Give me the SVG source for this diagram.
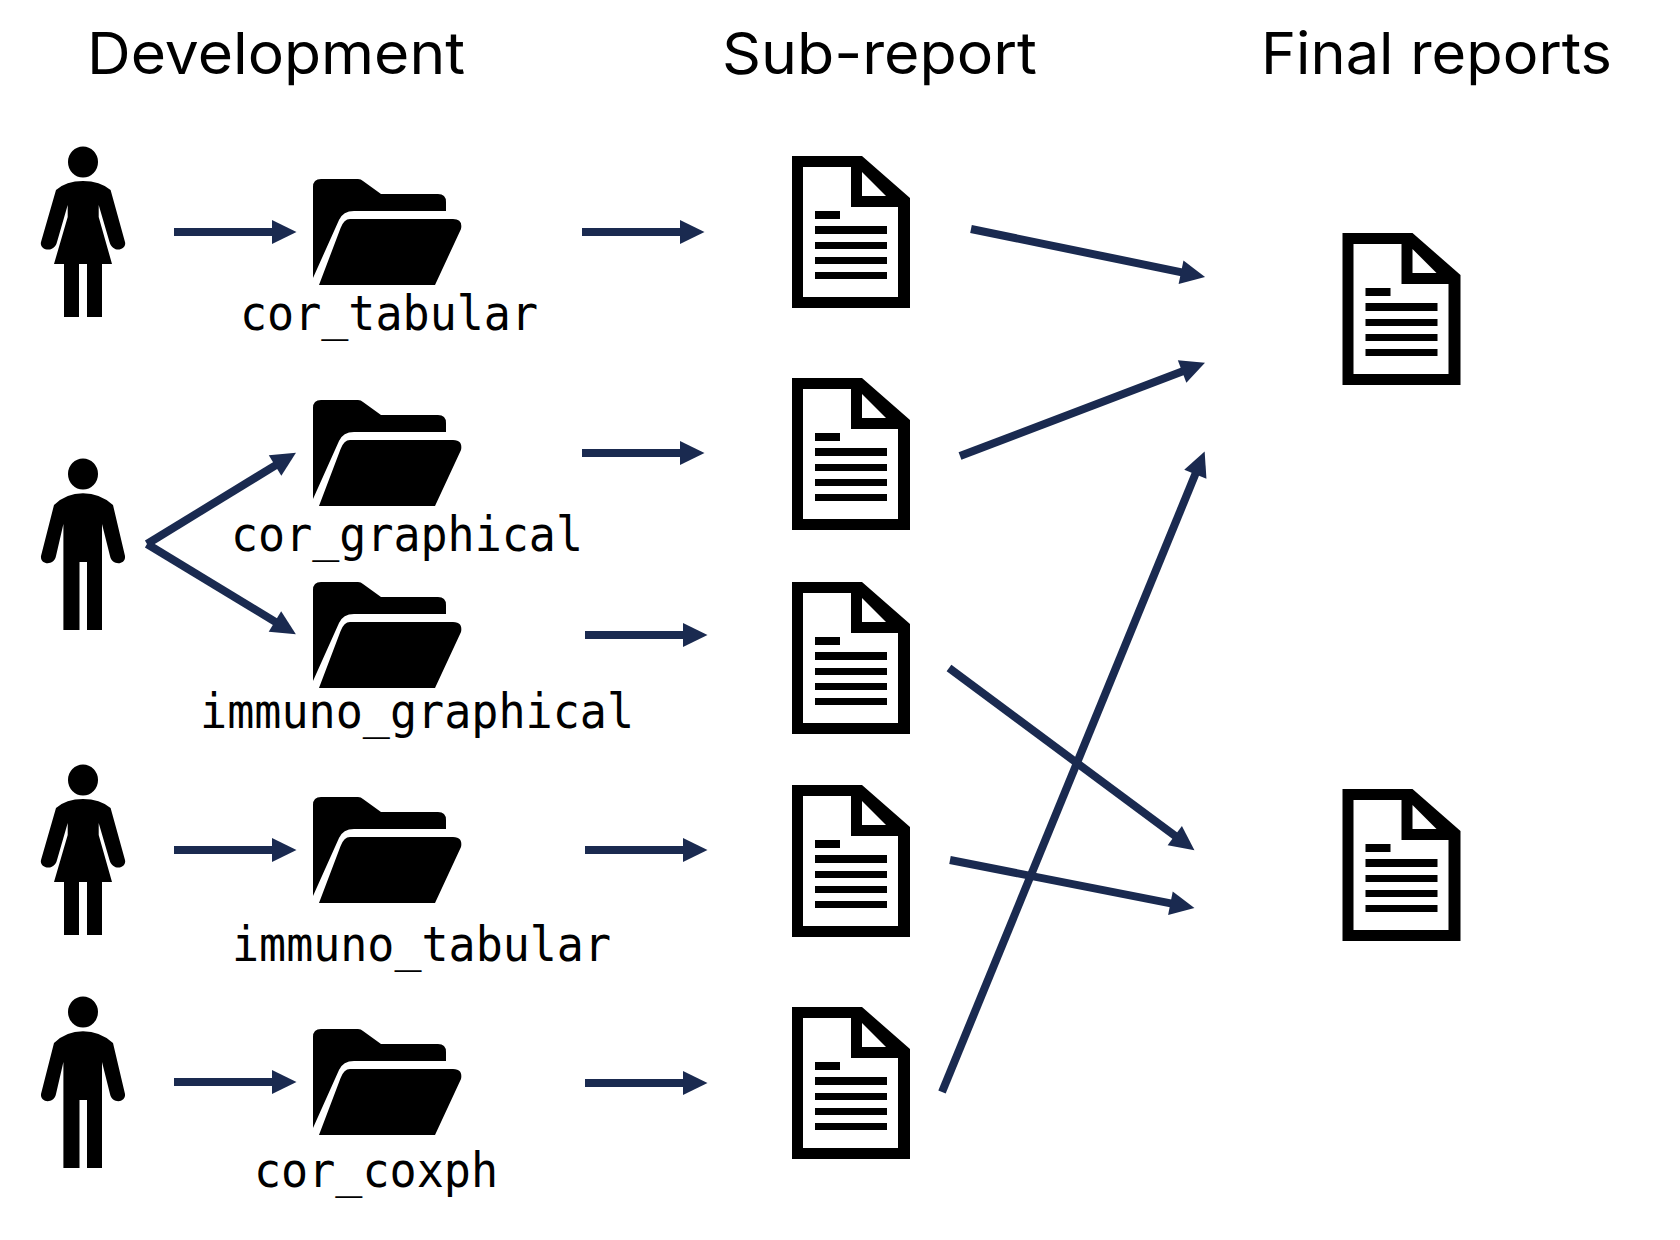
<svg xmlns="http://www.w3.org/2000/svg" width="1680" height="1240" viewBox="0 0 1680 1240">
<style>
.title{font-family:"Inter","Lato","Liberation Sans",sans-serif;font-size:58px;fill:#000}
.code{font-family:"DejaVu Sans Mono","Liberation Mono",monospace;font-size:48px;fill:#000}
.conn line{stroke:#1a2a50;stroke-width:8;fill:none;marker-end:url(#ah)}
</style>
<defs>
<marker id="ah" markerUnits="userSpaceOnUse" markerWidth="26" markerHeight="26" refX="12" refY="12" orient="auto" overflow="visible"><path d="M0 0L24.500 12L0 24Z" fill="#1a2a50"/></marker>
<g id="female">
<ellipse cx="83" cy="0" rx="15" ry="15.500"/>
<path d="M83 19Q66 19 56 28L41 80C39 88 54 92 57 80L67.700 43V55L54 102H64V155H79V102H87V155H102V102H112L98.700 55V43L109.500 80C113 92 127 88 125 80L110.600 28Q100 19 83 19Z"/>
</g>
<g id="male">
<ellipse cx="83" cy="0" rx="15" ry="15.500"/>
<path d="M83 19.300Q66 19.300 54 31L41 82C40 91 54 92 56 82L63.400 50V156H79.500V88H87V156H102V50L110 82C112 92 126 91 125 82L113 31Q100 19.300 83 19.300Z"/>
</g>
<g id="folder">
<path d="M0 8Q0 0 8 0H45Q48 0 50 2L68 15H125Q133 15 133 23V32H41Q30 32 26 41L0 99Z"/>
<path d="M37 40H140Q150 40 148 50L122 106H6L27.600 49Q31 40 37 40Z"/>
</g>
<g id="doc">
<path fill-rule="evenodd" d="M0 0H70L118 42V152H0ZM11 11V141H106V51H59V11ZM70 16V40H94Z"/>
<path d="M23 55H48V63H23ZM23 70H95V78H23ZM23 86H95V93H23ZM23 101H95V108H23ZM23 116H95V123H23Z"/>
</g>
</defs>
<rect width="1680" height="1240" fill="#fff"/>
<g id="titles">
<text class="title" x="87" y="74" textLength="378" lengthAdjust="spacingAndGlyphs">Development</text>
<text class="title" x="722" y="74" textLength="315" lengthAdjust="spacingAndGlyphs">Sub-report</text>
<text class="title" x="1261" y="74" textLength="351" lengthAdjust="spacingAndGlyphs">Final reports</text>
</g>
<g id="person1"><use href="#female" x="0" y="162"/></g>
<g id="person2"><use href="#male" x="0" y="474"/></g>
<g id="person3"><use href="#female" x="0" y="780"/></g>
<g id="person4"><use href="#male" x="0" y="1012"/></g>
<g id="folder1"><use href="#folder" x="313" y="179"/><text class="code" x="240" y="330" textLength="298" lengthAdjust="spacingAndGlyphs">cor_tabular</text></g>
<g id="folder2"><use href="#folder" x="313" y="400"/><text class="code" x="231" y="551" textLength="352" lengthAdjust="spacingAndGlyphs">cor_graphical</text></g>
<g id="folder3"><use href="#folder" x="313" y="582"/><text class="code" x="200" y="728" textLength="434" lengthAdjust="spacingAndGlyphs">immuno_graphical</text></g>
<g id="folder4"><use href="#folder" x="313" y="797"/><text class="code" x="232" y="961" textLength="379" lengthAdjust="spacingAndGlyphs">immuno_tabular</text></g>
<g id="folder5"><use href="#folder" x="313" y="1029"/><text class="code" x="254" y="1187" textLength="244" lengthAdjust="spacingAndGlyphs">cor_coxph</text></g>
<g id="subreport1"><use href="#doc" x="792" y="156"/></g>
<g id="subreport2"><use href="#doc" x="792" y="378"/></g>
<g id="subreport3"><use href="#doc" x="792" y="582"/></g>
<g id="subreport4"><use href="#doc" x="792" y="785"/></g>
<g id="subreport5"><use href="#doc" x="792" y="1007"/></g>
<g id="final1"><use href="#doc" x="1342.500" y="233"/></g>
<g id="final2"><use href="#doc" x="1342.500" y="789"/></g>
<g id="connectors" class="conn">
<line x1="174" y1="232" x2="284" y2="232"/>
<line x1="147" y1="544" x2="285.300" y2="459.300"/>
<line x1="147" y1="544" x2="285.200" y2="627.800"/>
<line x1="174" y1="850" x2="284" y2="850"/>
<line x1="174" y1="1082" x2="284" y2="1082"/>
<line x1="582" y1="232" x2="692" y2="232"/>
<line x1="582" y1="453" x2="692" y2="453"/>
<line x1="585" y1="635" x2="695" y2="635"/>
<line x1="585" y1="850" x2="695" y2="850"/>
<line x1="585" y1="1083" x2="695" y2="1083"/>
<line x1="971" y1="229" x2="1192.800" y2="274.600"/>
<line x1="960" y1="456" x2="1193.300" y2="367.300"/>
<line x1="942" y1="1092" x2="1199.900" y2="463.100"/>
<line x1="949" y1="668" x2="1184.400" y2="842.800"/>
<line x1="950" y1="860" x2="1182.200" y2="905.600"/>
</g>
</svg>
